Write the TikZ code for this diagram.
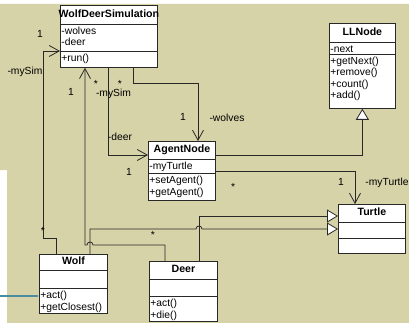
\documentclass[tikz,border=0pt]{standalone}
\usepackage{fontspec}
\setmainfont{Liberation Sans}
\usepackage{tikz}
\usetikzlibrary{calc,arrows.meta}

\definecolor{umlbg}{RGB}{214,211,168}
\definecolor{umlline}{RGB}{40,40,40}
\definecolor{slideteal}{RGB}{74,140,160}

% name, corner, width, row heights (title, attributes, operations), title, attributes, operations
\newcommand{\umlclass}[9]{%
  \node[classbox, minimum width=#3, minimum height=#4+#5+#6, anchor=north west] (#1) at (#2) {};
  \draw[classline] ($(#1.north west)+(0,#4)$) -- ++(#3,0);
  \draw[classline] ($(#1.north west)+(0,#4+#5)$) -- ++(#3,0);
  \node[classname] (#1-t) at ($(#1.north)+(0,#4/2)$) {#7};
  \node[members] (#1-a) at ($(#1.north west)+(0,#4)$) {\rule{0pt}{10.5pt}#8};
  \node[members] (#1-o) at ($(#1.north west)+(0,#4+#5)$) {\rule{0pt}{10.5pt}#9};
}

\begin{document}
\begin{tikzpicture}[x=1pt, y=-1pt,
  classbox/.style={draw=umlline, fill=white, line width=0.8pt, inner sep=0pt},
  classline/.style={draw=umlline, line width=0.8pt},
  classname/.style={font=\fontsize{10.6}{12}\selectfont\bfseries, inner sep=0pt, text height=7.6pt, text depth=2pt},
  members/.style={font=\fontsize{10.3}{11.3}\selectfont, anchor=north west, align=left, inner xsep=1.2pt, inner ysep=0pt},
  rolelabel/.style={font=\fontsize{10.3}{11.3}\selectfont, inner sep=0pt},
  assoc/.style={draw=umlline, line width=0.8pt, -{Straight Barb[length=10pt,width=11pt]}},
  generalize/.style={draw=umlline, line width=0.8pt, -{Triangle[length=11pt,width=13pt,fill=white]}}]
  \useasboundingbox (0,0) rectangle (409,323);
  \fill[umlbg] (0,4) -- (409,4) -- (409,323) -- (7,323) -- (7,170) -- (0,170) -- cycle;
  \draw[slideteal, line width=1.1pt] (0,296) -- (38,296);

  \umlclass{sim}{60,5}{97}{19}{27}{16}{WolfDeerSimulation}{-wolves\\-deer}{+run()}
  \umlclass{llnode}{329,23}{66}{19}{12}{54}{LLNode}{-next}{+getNext()\\+remove()\\+count()\\+add()}
  \umlclass{agent}{148,141}{67}{18}{14}{27}{AgentNode}{-myTurtle}{+setAgent()\\+getAgent()}
  \umlclass{turtle}{338,204}{67}{18}{16}{15}{Turtle}{}{}
  \umlclass{wolf}{39,254}{68}{16}{18}{25}{Wolf}{}{+act()\\+getClosest()}
  \umlclass{deer}{149,261}{68}{18}{17}{25}{Deer}{}{+act()\\+die()}

  \coordinate (wolfUp) at ($(wolf.north west)+(51,0)$);
  \coordinate (deerUp) at ($(deer.north west)+(50,0)$);

  \draw[assoc] ($(wolf.north west)+(17,0)$) |- ++(-13,-16) |- ($(sim.north west)+(0,46)$);
  \draw[assoc] ($(deer.north west)+(16,0)$) -- ++(0,-16) -- ($(wolfUp)+(3,-9)$) .. controls +(0,-4) and +(0,-4) .. ++(-6,0) -| ($(sim.south west)+(25,0)$);
  \draw[assoc] ($(sim.south west)+(48,0)$) |- ($(agent.north west)+(0,14)$);
  \draw[assoc] ($(sim.south west)+(73,0)$) -- ++(0,16) -| ($(agent.north west)+(50,0)$);
  \draw[assoc] ($(agent.north east)+(0,30)$) -| ($(turtle.north west)+(17,0)$);

  \draw[generalize] ($(agent.north east)+(0,14)$) -| (llnode.south);
  \draw[generalize] (deerUp) |- ($(turtle.north west)+(0,12)$);
  \draw[generalize] (wolfUp) |- ($(deerUp)+(-3,-32)$) .. controls +(0,-4) and +(0,-4) .. ++(6,0) -- ($(turtle.north west)+(0,25)$);

  \node[rolelabel] (r1) at (40,34) {1};
  \node[rolelabel] (r2) at (25,72) {-mySim};
  \node[rolelabel] (r3) at (43,230.5) {*};
  \node[rolelabel] (r4) at (71,92) {1};
  \node[rolelabel] (r5) at (96,84.3) {*};
  \node[rolelabel] (r6) at (113.5,94) {-mySim};
  \node[rolelabel] (r7) at (120,84.3) {*};
  \node[rolelabel] (r8) at (120,137) {-deer};
  \node[rolelabel] (r9) at (129,172) {1};
  \node[rolelabel] (r10) at (183,117) {1};
  \node[rolelabel] (r11) at (227,118) {-wolves};
  \node[rolelabel] (r12) at (341,182) {1};
  \node[rolelabel] (r13) at (387,183) {-myTurtle};
  \node[rolelabel] (r14) at (233,187.3) {*};
  \node[rolelabel] (r15) at (153,235.3) {*};
\end{tikzpicture}
\end{document}
